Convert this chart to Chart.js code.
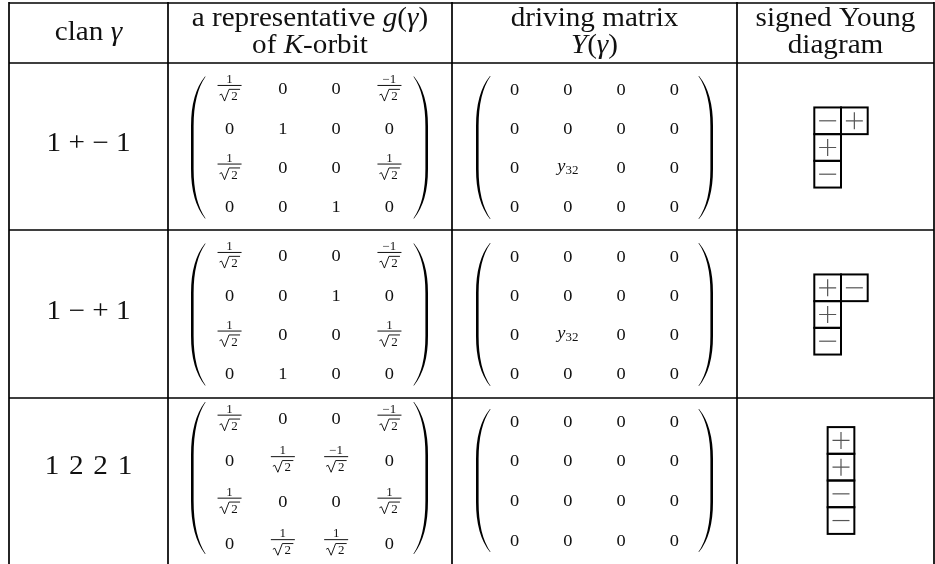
<!DOCTYPE html>
<html>
<head>
<meta charset="utf-8">
<script src="https://cdn.jsdelivr.net/npm/chart.js@4.4.1/dist/chart.umd.min.js"></script>
<style>
  html, body { margin: 0; padding: 0; background: #fff; }
  canvas { display: block; }
</style>
</head>
<body>
<canvas id="clanTable" width="935" height="564"></canvas>
<script>
// table content ($...$ = math italic)
const headers = [
    ["clan $γ$"],
    ["a representative $g$($γ$)", "of $K$-orbit"],
    ["driving matrix", "$Y$($γ$)"],
    ["signed Young", "diagram"]
];
const clans = ["1 + − 1", "1 − + 1", "1 \u200A2 \u200A2 \u200A1"];

// "r" = 1/√2, "-r" = −1/√2
const gMatrices = [
    [["r", "0", "0", "-r"], ["0", "1", "0", "0"], ["r", "0", "0", "r"], ["0", "0", "1", "0"]],
    [["r", "0", "0", "-r"], ["0", "0", "1", "0"], ["r", "0", "0", "r"], ["0", "1", "0", "0"]],
    [["r", "0", "0", "-r"], ["0", "r", "-r", "0"], ["r", "0", "0", "r"], ["0", "r", "r", "0"]]
];
const yMatrices = [
    [["0", "0", "0", "0"], ["0", "0", "0", "0"], ["0", "y32", "0", "0"], ["0", "0", "0", "0"]],
    [["0", "0", "0", "0"], ["0", "0", "0", "0"], ["0", "y32", "0", "0"], ["0", "0", "0", "0"]],
    [["0", "0", "0", "0"], ["0", "0", "0", "0"], ["0", "0", "0", "0"], ["0", "0", "0", "0"]]
];
const youngDiagrams = [
    [["-", "+"], ["+"], ["-"]],
    [["+", "-"], ["+"], ["-"]],
    [["+"], ["+"], ["-"], ["-"]]
];

// layout (in scale units = pixels)
const colEdges = [9, 168, 452, 737, 934];
const rowEdges = [3, 63, 230, 398];
const tableBottom = 564;
const matCenterY = [147.5, 314.5, 480.5];
const gRowStep = [39.3, 39.3, 41.5];
const yRowStep = [39, 39, 39.7];
const colStep = 53.3;
const gCenterX = 309.5, yCenterX = 594.5;
const clanY = [142, 310, 465];
const youngCX = 841, youngBox = 26.7;

const FONT = "'Liberation Serif', 'Times New Roman', serif";
const HSCALE = 1.08;

function matrixPoints(mats, cx, steps) {
    const pts = [];
    mats.forEach((m, k) => {
        m.forEach((row, i) => {
            row.forEach((v, j) => {
                pts.push({
                    x: cx + (j - 1.5) * colStep,
                    y: matCenterY[k] + (i - 1.5) * steps[k],
                    v: v
                });
            });
        });
    });
    return pts;
}

function drawRich(c, str, cx, by, size) {
    const segs = str.split('$').map((t, i) => ({ t: t, it: i % 2 === 1 })).filter(s => s.t.length);
    const widths = segs.map(s => {
        c.font = (s.it ? 'italic ' : '') + size + 'px ' + FONT;
        return c.measureText(s.t).width * HSCALE;
    });
    let x = cx - widths.reduce((a, b) => a + b, 0) / 2;
    segs.forEach((s, i) => {
        c.font = (s.it ? 'italic ' : '') + size + 'px ' + FONT;
        c.save();
        c.translate(x, by);
        c.scale(HSCALE, 1);
        c.fillText(s.t, 0, 0);
        c.restore();
        x += widths[i];
    });
}

function drawFraction(c, neg, x, y) {
    drawRich(c, neg ? "−1" : "1", x, y - 5.5, 12);
    c.fillRect(x - 12, y - 3.6, 24, 1);
    // √2
    const xs = x - 10;
    c.save();
    c.lineWidth = 0.9;
    c.beginPath();
    c.moveTo(xs, y + 6.5);
    c.lineTo(xs + 2, y + 5.5);
    c.lineTo(xs + 5, y + 12.5);
    c.lineTo(xs + 9.5, y + 0.8);
    c.lineTo(xs + 20.5, y + 0.8);
    c.stroke();
    c.restore();
    drawRich(c, "2", xs + 15, y + 11.5, 12);
}

function drawEntry(c, v, x, y) {
    if (v === "r" || v === "-r") {
        drawFraction(c, v === "-r", x, y);
    } else if (v === "y32") {
        c.font = 'italic 17px ' + FONT;
        const w1 = c.measureText("y").width * HSCALE;
        c.font = '12px ' + FONT;
        const w2 = c.measureText("32").width * HSCALE;
        const x0 = x - (w1 + w2) / 2;
        drawRich(c, "$y$", x0 + w1 / 2, y + 4, 17);
        drawRich(c, "32", x0 + w1 + w2 / 2, y + 7, 12);
    } else {
        drawRich(c, v, x, y + 5.8, 17);
    }
}

function drawParen(c, xEnd, xOut, top, bottom, t) {
    const h = bottom - top;
    const dir = xOut < xEnd ? 1 : -1;
    const xIn = xOut + dir * t;
    c.beginPath();
    c.moveTo(xEnd, top);
    c.quadraticCurveTo(xOut, top + 0.12 * h, xOut, top + 0.35 * h);
    c.lineTo(xOut, bottom - 0.35 * h);
    c.quadraticCurveTo(xOut, bottom - 0.12 * h, xEnd, bottom);
    c.lineTo(xEnd + dir * 0.6, bottom);
    c.quadraticCurveTo(xIn, bottom - 0.12 * h, xIn, bottom - 0.35 * h);
    c.lineTo(xIn, top + 0.35 * h);
    c.quadraticCurveTo(xIn, top + 0.12 * h, xEnd + dir * 0.6, top);
    c.closePath();
    c.fill();
}

function drawSign(c, s, x, y) {
    c.save();
    c.strokeStyle = '#555';
    c.lineWidth = 1.2;
    c.beginPath();
    c.moveTo(x - 8.5, y);
    c.lineTo(x + 8.5, y);
    if (s === "+") {
        c.moveTo(x, y - 8.5);
        c.lineTo(x, y + 8.5);
    }
    c.stroke();
    c.restore();
}

const tablePlugin = {
    id: 'tablePlugin',
    afterDatasetsDraw(chart) {
        const c = chart.ctx;
        const sx = chart.scales.x, sy = chart.scales.y;
        const px = v => sx.getPixelForValue(v);
        const py = v => sy.getPixelForValue(v);
        c.save();
        c.fillStyle = '#111';
        c.strokeStyle = '#000';
        c.textAlign = 'left';
        c.textBaseline = 'alphabetic';

        // rules
        c.lineWidth = 1.7;
        c.beginPath();
        colEdges.forEach(x => { c.moveTo(px(x), py(rowEdges[0]) - 1); c.lineTo(px(x), py(tableBottom)); });
        rowEdges.forEach(y => { c.moveTo(px(colEdges[0]), py(y)); c.lineTo(px(colEdges[4]), py(y)); });
        c.stroke();

        // headers
        headers.forEach((lines, k) => {
            const cx = px((colEdges[k] + colEdges[k + 1]) / 2);
            if (lines.length === 1) {
                drawRich(c, lines[0], cx, py(40), 27);
            } else {
                drawRich(c, lines[0], cx, py(26), 27);
                drawRich(c, lines[1], cx, py(53), 27);
            }
        });

        // clans
        clans.forEach((s, k) => {
            drawRich(c, s, px((colEdges[0] + colEdges[1]) / 2), py(clanY[k] + 9), 27);
        });

        // parentheses
        c.fillStyle = '#000';
        for (let k = 0; k < 3; k++) {
            const gh = k === 2 ? 76 : 71;
            const gc = k === 2 ? 478 : matCenterY[k];
            [[gCenterX, gc, gh], [yCenterX, matCenterY[k], 71.5]].forEach(([mx, my, hh]) => {
                drawParen(c, px(mx - 104.5), px(mx - 118.5), py(my - hh), py(my + hh), 2.6);
                drawParen(c, px(mx + 104.5), px(mx + 118.5), py(my - hh), py(my + hh), 2.6);
            });
        }

        // matrix entries at the element positions
        c.fillStyle = '#111';
        chart.data.datasets.forEach((ds, di) => {
            const meta = chart.getDatasetMeta(di);
            meta.data.forEach((el, i) => drawEntry(c, ds.data[i].v, el.x, el.y));
        });

        // signed Young diagrams
        youngDiagrams.forEach((rows, k) => {
            const nCols = Math.max(...rows.map(r => r.length));
            const left = youngCX - nCols * youngBox / 2;
            const top = matCenterY[k] - rows.length * youngBox / 2;
            rows.forEach((row, i) => {
                row.forEach((s, j) => {
                    const x0 = px(left + j * youngBox), y0 = py(top + i * youngBox);
                    c.lineWidth = 2;
                    c.strokeStyle = '#000';
                    c.strokeRect(x0, y0, youngBox, youngBox);
                    drawSign(c, s, x0 + youngBox / 2, y0 + youngBox / 2);
                });
            });
        });
        c.restore();
    }
};

const ctx = document.getElementById('clanTable');
const data = {
    datasets: [
        { label: 'g(γ)', data: matrixPoints(gMatrices, gCenterX, gRowStep), pointRadius: 0 },
        { label: 'Y(γ)', data: matrixPoints(yMatrices, yCenterX, yRowStep), pointRadius: 0 }
    ]
};
const config = {
    type: 'scatter',
    data: data,
    options: {
        responsive: false,
        animation: false,
        layout: { padding: 0 },
        events: [],
        plugins: { legend: { display: false }, tooltip: { enabled: false } },
        scales: {
            x: { type: 'linear', min: 0, max: 935, display: false },
            y: { type: 'linear', min: 0, max: 564, reverse: true, display: false }
        }
    },
    plugins: [tablePlugin]
};
new Chart(ctx, config);
</script>
</body>
</html>
